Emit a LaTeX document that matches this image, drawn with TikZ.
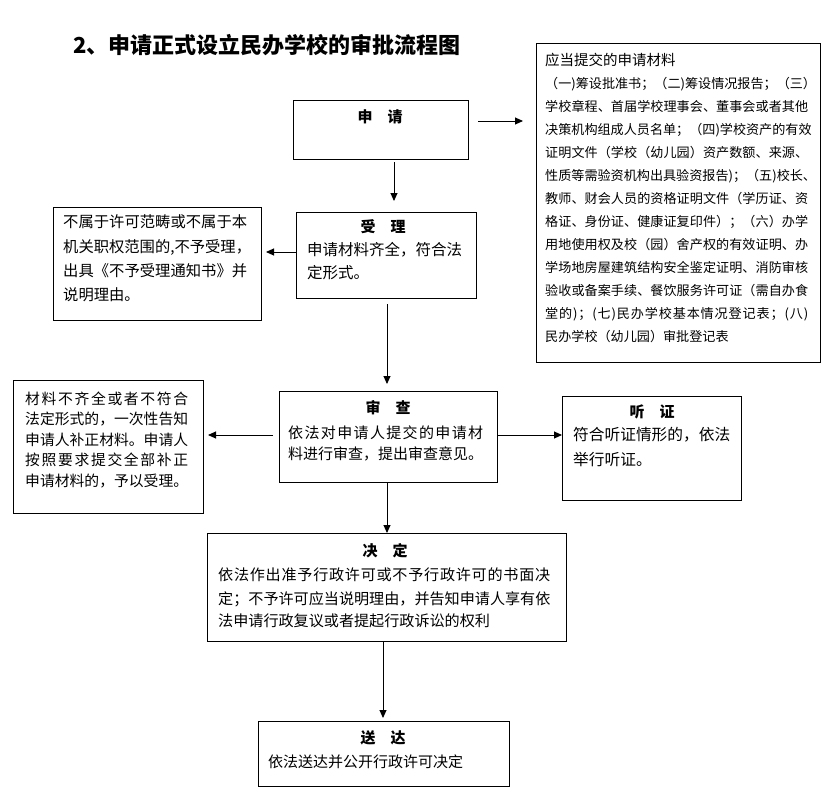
\documentclass[tikz,border=0pt]{standalone}
\usepackage{fontspec}
\setmainfont{Noto Sans CJK SC}
\usetikzlibrary{arrows.meta}
\makeatletter
\newcommand\jw[2]{\makebox[#1pt][s]{\@tfor\cc:=#2\do{\cc\hskip 0pt plus 1fil}\unskip}}
\makeatother
\newcommand\jline[1]{\jw{263}{#1}}
\newcommand\fs[1]{\fontsize{#1}{#1}\selectfont}
\tikzset{
  box/.style={draw, line width=1pt, inner sep=0pt, anchor=north west},
  txt/.style={inner sep=0pt, anchor=base west},
  hd/.style={inner sep=0pt, anchor=base, font=\bfseries\fs{15}},
  arr/.style={-{Triangle[length=8pt,width=7pt]}, line width=0.9pt},
}
\begin{document}
\begin{tikzpicture}[x=1pt,y=-1pt]
\useasboundingbox (0,0) rectangle (834,800);

% title
\node[txt, font=\bfseries\fs{22}] (title) at (73,53.4) {2、申请正式设立民办学校的审批流程图};

% boxes
\node[box, minimum width=175pt, minimum height=59pt] (shenqing) at (293,100) {};
\node[box, minimum width=284pt, minimum height=319pt] (cailiao) at (536,43) {};
\node[box, minimum width=180pt, minimum height=86pt] (shouli) at (296,212) {};
\node[box, minimum width=208pt, minimum height=113pt] (buyu) at (53,207) {};
\node[box, minimum width=218pt, minimum height=91pt] (shencha) at (279,391) {};
\node[box, minimum width=190pt, minimum height=133pt] (buzheng) at (13,380) {};
\node[box, minimum width=179pt, minimum height=104pt] (tingzheng) at (562,396) {};
\node[box, minimum width=359pt, minimum height=108pt] (jueding) at (207,533) {};
\node[box, minimum width=251pt, minimum height=65pt] (songda) at (258,721) {};

% 申请
\node[hd] (hsq) at (380,122.7) {申　请};

% materials
\node[txt, font=\fs{14.5}] (m0) at (545,65.5) {应当提交的申请材料};
\begin{scope}[every node/.style={txt, font=\fs{13.1}}]
\node (m1) at (545,88) {\jline{（一)筹设批准书；（二)筹设情况报告；（三）}};
\node (m2) at (545,111) {\jline{学校章程、首届学校理事会、董事会或者其他}};
\node (m3) at (545,134) {\jline{决策机构组成人员名单；（四)学校资产的有效}};
\node (m4) at (545,157) {\jline{证明文件（学校（幼儿园）资产数额、来源、}};
\node (m5) at (545,180) {\jline{性质等需验资机构出具验资报告)；（五)校长、}};
\node (m6) at (545,203) {\jline{教师、财会人员的资格证明文件（学历证、资}};
\node (m7) at (545,226) {\jline{格证、身份证、健康证复印件）；（六）办学}};
\node (m8) at (545,249) {\jline{用地使用权及校（园）舍产权的有效证明、办}};
\node (m9) at (545,272) {\jline{学场地房屋建筑结构安全鉴定证明、消防审核}};
\node (m10) at (545,295) {\jline{验收或备案手续、餐饮服务许可证（需自办食}};
\node (m11) at (545,318) {\jline{堂的)；(七)民办学校基本情况登记表；(八)}};
\node (m12) at (545,341) {民办学校（幼儿园）审批登记表};
\end{scope}

% 不予受理
\begin{scope}[every node/.style={txt, font=\fs{15.3}}]
\node (b1) at (63,227.8) {\jw{184}{不属于许可范畴或不属于本}};
\node (b2) at (63,252.8) {\jw{184}{机关职权范围的,不予受理，}};
\node (b3) at (63,276.8) {\jw{184}{出具《不予受理通知书》并}};
\node (b4) at (63,300.8) {说明理由。};
\end{scope}

% 受理
\node[hd] (hsl) at (383,232.7) {受　理};
\node[txt, font=\fs{15.5}] (s1) at (307,255.9) {申请材料齐全，符合法};
\node[txt, font=\fs{15.5}] (s2) at (307,278.9) {定形式。};

% 审查
\node[hd] (hsc) at (388,413.7) {审　查};
\node[txt, font=\fs{15}] (c1) at (288,438.1) {\jw{195}{依法对申请人提交的申请材}};
\node[txt, font=\fs{15}] (c2) at (288,459.1) {料进行审查，提出审查意见。};

% 补正
\begin{scope}[every node/.style={txt, font=\fs{14.8}}]
\node (z1) at (25,404.2) {\jw{163}{材料不齐全或者不符合}};
\node (z2) at (25,424.7) {\jw{163}{法定形式的，一次性告知}};
\node (z3) at (25,445.2) {\jw{163}{申请人补正材料。申请人}};
\node (z4) at (25,465.7) {\jw{163}{按照要求提交全部补正}};
\node (z5) at (25,486.2) {\jw{163}{申请材料的，予以受理。}};
\end{scope}

% 听证
\node[hd] (htz) at (652,417.7) {听　证};
\node[txt, font=\fs{15.7}] (t1) at (573,440) {符合听证情形的，依法};
\node[txt, font=\fs{15.7}] (t2) at (573,465) {举行听证。};

% 决定
\node[hd] (hjd) at (385,556.7) {决　定};
\begin{scope}[every node/.style={txt, font=\fs{15.1}}]
\node (j1) at (218,580) {\jw{332}{依法作出准予行政许可或不予行政许可的书面决}};
\node (j2) at (218,604) {\jw{332}{定；不予许可应当说明理由，并告知申请人享有依}};
\node (j3) at (218,626) {法申请行政复议或者提起行政诉讼的权利};
\end{scope}

% 送达
\node[hd] (hsd) at (383,743.7) {送　达};
\node[txt, font=\fs{15}] (d1) at (268,767.7) {依法送达并公开行政许可决定};

% arrows
\draw[arr, shorten <=9pt, shorten >=13pt] (shenqing.east |- 0,121) -- (cailiao.west |- 0,121);
\draw[arr, shorten <=2pt, shorten >=11pt] (shenqing.south -| 394,0) -- (shouli.north -| 394,0);
\draw[arr, shorten >=4pt] (shouli.west |- 0,252) -- (buyu.east |- 0,252);
\draw[arr, shorten <=5pt, shorten >=7pt] (shouli.south -| 387,0) -- (shencha.north -| 387,0);
\draw[arr, shorten <=6pt, shorten >=4pt] (shencha.west |- 0,435) -- (buzheng.east |- 0,435);
\draw[arr] (shencha.east |- 0,435) -- (tingzheng.west |- 0,435);
\draw[arr] (shencha.south -| 387,0) -- (jueding.north -| 387,0);
\draw[arr, shorten >=3pt] (jueding.south -| 383,0) -- (songda.north -| 383,0);
\end{tikzpicture}
\end{document}
